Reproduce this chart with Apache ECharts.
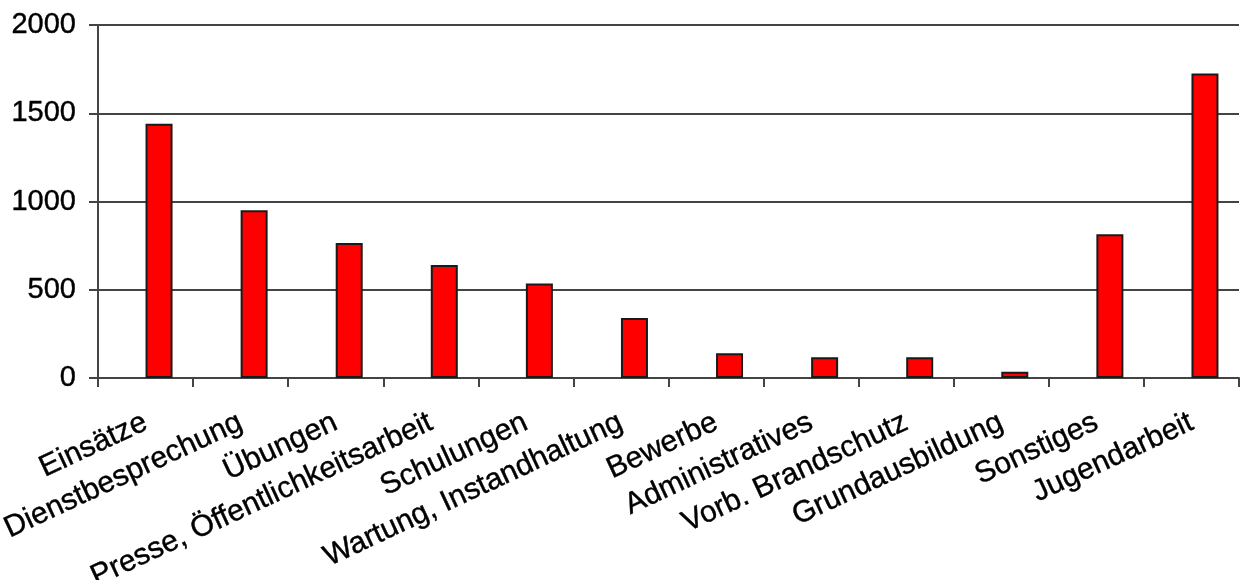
<!DOCTYPE html>
<html>
<head>
<meta charset="utf-8">
<title>Stunden nach Tätigkeit</title>
<script src="https://cdn.jsdelivr.net/npm/echarts@6/dist/echarts.min.js"></script>
<style>
  html, body { margin: 0; padding: 0; background: #ffffff; }
  #chart { width: 1245px; height: 580px; }
</style>
</head>
<body>
<div id="chart"></div>
<script>
// Tätigkeitsbereiche
const categories = [
  'Einsätze', 'Dienstbesprechung', 'Übungen', 'Presse, Öffentlichkeitsarbeit',
  'Schulungen', 'Wartung, Instandhaltung', 'Bewerbe', 'Administratives',
  'Vorb. Brandschutz', 'Grundausbildung', 'Sonstiges', 'Jugendarbeit'
];

// Stunden je Bereich
const stunden = [1440, 950, 765, 640, 535, 340, 140, 118, 118, 35, 815, 1725];

// Achsenskala
const yMin = 0;
const yMax = 2000;
const yStep = 500;

const chart = echarts.init(document.getElementById('chart'), null, { renderer: 'canvas' });

const labelFont = {
  fontFamily: '"Liberation Sans", Arial, sans-serif',
  color: '#000000',
  textBorderColor: '#000000',
  textBorderWidth: 0.4
};

const lineColor = '#444444';

chart.setOption({
  animation: false,
  backgroundColor: '#ffffff',
  grid: {
    left: 98, right: 6, top: 25, bottom: 202,
    containLabel: false,
    outerBoundsMode: 'none'
  },
  xAxis: {
    type: 'category',
    data: categories,
    boundaryGap: true,
    axisLine: { show: true, lineStyle: { color: lineColor, width: 2 } },
    axisTick: { show: true, length: 9, lineStyle: { color: lineColor, width: 2 } },
    axisLabel: Object.assign({ interval: 0, rotate: 25, margin: 43, fontSize: 30 }, labelFont),
    splitLine: { show: false }
  },
  yAxis: {
    type: 'value',
    min: yMin,
    max: yMax,
    interval: yStep,
    axisLine: { show: true, lineStyle: { color: lineColor, width: 2 } },
    axisTick: { show: true, length: 9, lineStyle: { color: lineColor, width: 2 } },
    axisLabel: Object.assign({ margin: 22, fontSize: 29, formatter: (v) => String(v) }, labelFont),
    splitLine: { show: true, lineStyle: { color: lineColor, width: 2 } }
  },
  series: [
    {
      // empty left slot of each category, so the bar sits right of the centre
      name: 'leer',
      type: 'bar',
      barWidth: 27,
      barGap: '0%',
      data: categories.map(() => null),
      silent: true
    },
    {
      name: 'Stunden',
      type: 'bar',
      barWidth: 27,
      barGap: '0%',
      data: stunden,
      itemStyle: { color: '#ff0000', borderColor: '#1a1a1a', borderWidth: 2 }
    }
  ]
});
</script>
</body>
</html>
